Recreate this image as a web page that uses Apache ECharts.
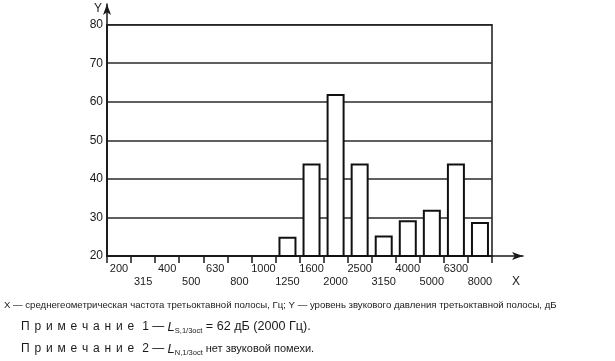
<!DOCTYPE html>
<html>
<head>
<meta charset="utf-8">
<script src="https://cdn.jsdelivr.net/npm/echarts@6/dist/echarts.min.js"></script>
<style>
html,body{margin:0;padding:0;background:#fff;}
#c{width:615px;height:361px;}
</style>
</head>
<body>
<div id="c"></div>
<script>
const categories = ['200','315','400','500','630','800','1000','1250','1600','2000','2500','3150','4000','5000','6300','8000'];
const levels = [null,null,null,null,null,null,null,25,44,62,44,25.3,29.3,32,44,28.8];
const yMin = 20, yMax = 80, yStep = 10;
const xName = 'X', yName = 'Y';
const captionLine1 = 'X — среднегеометрическая частота третьоктавной полосы, Гц; Y — уровень звукового давления третьоктавной полосы, дБ';
const noteWord = 'Примечание';
const note1 = ['1', ' — ', 'L', 'S,1/3oct', ' = 62 дБ (2000 Гц).'];
const note2 = ['2', ' — ', 'L', 'N,1/3oct', ' нет звуковой помехи.'];

const FONT = 'Liberation Sans, Arial, sans-serif';
const INK = '#1a1a1a';
const chart = echarts.init(document.getElementById('c'), null, {renderer:'canvas'});

const spaced = noteWord.split('').join('\u2009\u2009');
function noteText(n, tailStyle){ return '{sp|'+spaced+'\u2009\u2009 '+n[0]+'}{t|'+n[1]+'}{it|'+n[2]+'}{sub|'+n[3]+'}{'+tailStyle+'|'+n[4]+'}'; }
const richStyles = {
  sp:{fontFamily:FONT,fontSize:12,fill:INK,lineHeight:16},
  t:{fontFamily:FONT,fontSize:12,fill:INK,lineHeight:16},
  t1:{fontFamily:FONT,fontSize:12.6,fill:INK,lineHeight:16},
  t2:{fontFamily:FONT,fontSize:11,fill:INK,lineHeight:16},
  it:{fontFamily:FONT,fontSize:13,fontStyle:'italic',fill:INK,lineHeight:16},
  sub:{fontFamily:FONT,fontSize:7.5,fill:INK,lineHeight:16,verticalAlign:'bottom',padding:[7,0,0,0]}
};

chart.setOption({
  animation:false,
  backgroundColor:'#fff',
  grid:[
    {left:107, right:123, top:24.7, bottom:105, show:true, borderColor:INK, borderWidth:1.5, backgroundColor:'transparent'},
    {left:107, right:92, top:4, bottom:105}
  ],
  xAxis:[
    {type:'category', gridIndex:0, data:categories,
     axisLine:{show:true, lineStyle:{color:INK, width:1.5}},
     axisTick:{show:true, length:7, lineStyle:{color:INK, width:1.5}},
     axisLabel:{interval:0, margin:6, fontFamily:FONT, fontSize:11, color:INK, lineHeight:13,
       formatter:(v,i)=> (i%2===1 ? '\n'+v : v)}
    },
    {type:'value', gridIndex:1, min:0, max:1, name:xName, nameLocation:'end', nameGap:-7,
     nameTextStyle:{fontFamily:FONT, fontSize:12, color:INK, align:'center', verticalAlign:'top', padding:[20,0,0,0]},
     axisLine:{show:true, symbol:['none','arrow'], symbolSize:[6,11], lineStyle:{color:INK, width:1.5}},
     axisTick:{show:false}, axisLabel:{show:false}, splitLine:{show:false}}
  ],
  yAxis:[
    {type:'value', gridIndex:0, min:yMin, max:yMax, interval:yStep,
     axisLine:{show:true, lineStyle:{color:INK, width:1.5}},
     axisTick:{show:false},
     axisLabel:{margin:4, fontFamily:FONT, fontSize:12, color:INK},
     splitLine:{show:true, lineStyle:{color:'#2a2a2a', width:1.5}}
    },
    {type:'value', gridIndex:1, min:0, max:1, name:yName, nameLocation:'end', nameGap:-11,
     nameTextStyle:{fontFamily:FONT, fontSize:12, color:INK, align:'right', padding:[0,5,0,0]},
     axisLine:{show:true, symbol:['none','arrow'], symbolSize:[6,11], lineStyle:{color:INK, width:1.5}},
     axisTick:{show:false}, axisLabel:{show:false}, splitLine:{show:false}}
  ],
  series:[
    {type:'bar', xAxisIndex:0, yAxisIndex:0, data:levels, barWidth:18,
     itemStyle:{color:'#fff', borderColor:'#111', borderWidth:2}, z:3}
  ],
  graphic:[
    {type:'text', left:4, top:300, style:{text:captionLine1, fontFamily:FONT, fontSize:9.6, fill:INK}},
    {type:'text', left:21, top:320, style:{text:noteText(note1,'t1'), rich:richStyles}},
    {type:'text', left:21, top:342, style:{text:noteText(note2,'t2'), rich:richStyles}}
  ]
});
</script>
</body>
</html>
